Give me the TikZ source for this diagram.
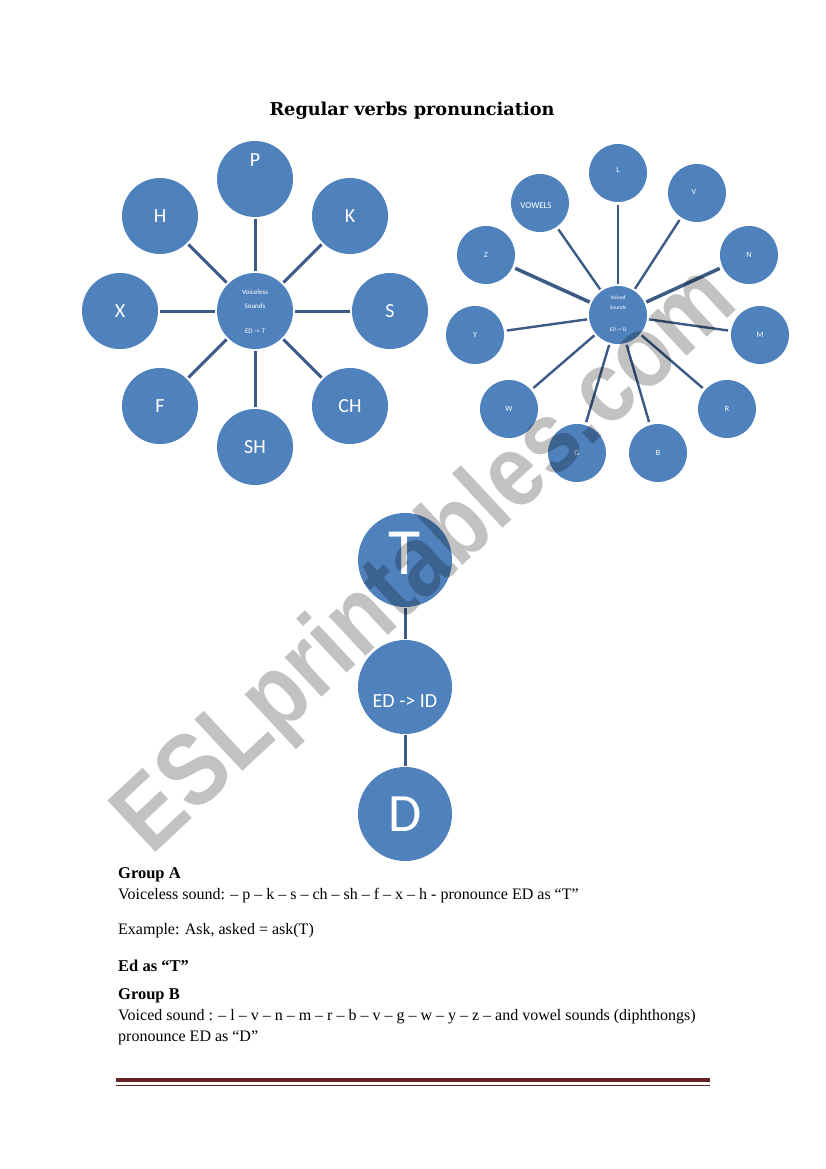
\documentclass[tikz,border=0pt]{standalone}
\usepackage{fontspec}
\setmainfont{Liberation Serif}
\newfontfamily\calib{Carlito}
\newfontfamily\titlef{DejaVu Serif}
\newfontfamily\wmf{Liberation Sans}
\definecolor{circ}{RGB}{79,129,189}
\definecolor{conn}{RGB}{60,90,134}
\definecolor{rulecol}{RGB}{99,36,35}
\begin{document}
\begin{tikzpicture}[x=1pt,y=-1pt,
  bigc/.style={circle,fill=circ,minimum size=76pt,inner sep=0pt,text=white,font=\calib\fontsize{20}{24}\selectfont},
  smc/.style={circle,fill=circ,minimum size=58pt,inner sep=0pt,text=white,font=\calib\fontsize{8}{10}\selectfont},
  hugec/.style={circle,fill=circ,minimum size=94pt,inner sep=0pt,text=white},
  wtxt/.style={text=white,inner sep=0pt},
  lconn/.style={draw=conn,line width=3pt,shorten >=2pt,shorten <=2pt},
  rconn/.style={draw=conn,line width=2.4pt,shorten >=3pt,shorten <=2pt},
  body/.style={anchor=base west,inner sep=0pt,font=\fontsize{16}{19}\selectfont},
  bodyb/.style={anchor=base west,inner sep=0pt,font=\bfseries\fontsize{16.5}{19}\selectfont}
]
\fill[white] (0,0) rectangle (826,1169);
\useasboundingbox (0,0) rectangle (826,1169);

% title
\node[anchor=base,inner sep=0pt,font=\titlef\bfseries\fontsize{17.7}{21}\selectfont] (title) at (412,116) {Regular verbs pronunciation};

% ---------- left cluster ----------
\node[bigc] (LC) at (255,311) {};
\node[wtxt,font=\calib\fontsize{7}{8}\selectfont] (lc1) at (255,292) {Voiceless};
\node[wtxt,font=\calib\fontsize{7}{8}\selectfont] (lc2) at (255,306) {Sounds};
\node[wtxt,font=\calib\fontsize{7}{8}\selectfont] (lc3) at (255,331) {ED -> T};
\node[bigc] (P) at (255,179) {};
\node[wtxt,font=\calib\fontsize{20}{24}\selectfont] (Pt) at (255,160) {P};
\node[bigc] (H) at (160,216) {H};
\node[bigc] (K) at (350,216) {K};
\node[bigc] (X) at (120,311) {X};
\node[bigc] (S) at (390,311) {S};
\node[bigc] (F) at (160,406) {F};
\node[bigc] (CH) at (350,406) {CH};
\node[bigc] (SH) at (255,447) {SH};
\foreach \n in {P,H,K,X,S,F,CH,SH} \draw[lconn] (LC) -- (\n);

% ---------- right cluster ----------
\node[smc] (RC) at (618,315) {};
\node[wtxt,font=\calib\fontsize{5.5}{6}\selectfont] (rc1) at (618,298) {Voiced};
\node[wtxt,font=\calib\fontsize{5.5}{6}\selectfont] (rc2) at (618,308) {Sounds};
\node[wtxt,font=\calib\fontsize{5.5}{6}\selectfont] (rc3) at (618,330) {ED -> D};
\node[smc] (L) at (618,173) {};
\node[wtxt,font=\calib\fontsize{8}{10}\selectfont] (Lt) at (618,170) {L};
\node[smc] (V) at (697,193) {};
\node[wtxt,font=\calib\fontsize{8}{10}\selectfont] (Vt) at (694,192) {V};
\node[smc] (VOW) at (540,203) {};
\node[wtxt,font=\calib\fontsize{9}{10}\selectfont] (VOWt) at (536,206) {VOWELS};
\node[smc] (Z) at (486,255) {Z};
\node[smc] (N) at (749,255) {N};
\node[smc] (Y) at (475,335) {Y};
\node[smc] (M) at (760,335) {M};
\node[smc] (W) at (509,409) {W};
\node[smc] (R) at (727,409) {R};
\node[smc] (G) at (577,453) {G};
\node[smc] (B) at (658,453) {B};
\foreach \n in {L,V,VOW,Y,M,W,G,B,R} \draw[rconn] (RC) -- (\n);
\draw[rconn,line width=3.5pt] (RC) -- (Z);
\draw[rconn,line width=3.5pt] (RC) -- (N);

% ---------- bottom chain ----------
\node[hugec] (T) at (405,560) {};
\node[wtxt,font=\calib\fontsize{66}{70}\selectfont] (Tt) at (405,553) {T};
\node[hugec] (ED) at (405,687) {};
\node[wtxt,font=\calib\fontsize{20}{24}\selectfont] (EDt) at (405,701) {ED -> ID};
\node[hugec,font=\calib\fontsize{54}{60}\selectfont] (D) at (405,814) {D};
\draw[draw=conn,line width=3pt,shorten >=1pt,shorten <=1pt] (T) -- (ED);
\draw[draw=conn,line width=3pt,shorten >=1pt,shorten <=1pt] (ED) -- (D);

% ---------- text ----------
\node[bodyb] (ga) at (118,878) {Group A};
\node[body] (l1) at (118,899) {Voiceless sound: – p – k – s – ch – sh – f – x – h - pronounce ED as “T”};
\node[body] (l2) at (118,934) {Example: Ask, asked = ask(T)};
\node[bodyb] (edt) at (118,971) {Ed as “T”};
\node[bodyb] (gb) at (118,999) {Group B};
\node[body] (l3) at (118,1020) {Voiced sound : – l – v – n – m – r – b – v – g – w – y – z – and vowel sounds (diphthongs)};
\node[body] (l4) at (118,1041) {pronounce ED as “D”};

% ---------- footer rule ----------
\draw[rulecol,line width=4.5pt] (116,1080) -- (710,1080);
\draw[rulecol,line width=1pt] (116,1085.5) -- (710,1085.5);

% ---------- watermark ----------
\node[rotate=43,inner sep=0pt,text=black,text opacity=0.24,font=\wmf\bfseries\fontsize{89}{92}\selectfont] (wm) at (428,562) {\scalebox{1}[1.15]{ESLprintables.com}};
\end{tikzpicture}
\end{document}
